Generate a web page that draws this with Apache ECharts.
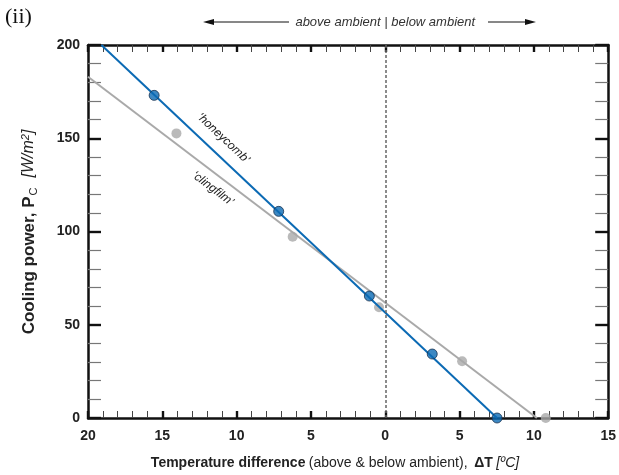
<!DOCTYPE html>
<html><head><meta charset="utf-8">
<script src="https://cdn.jsdelivr.net/npm/echarts@6/dist/echarts.min.js"></script>
<style>html,body{margin:0;padding:0;background:#fff}#c{width:619px;height:475px}</style>
</head><body><div id="c"></div>
<script>
// ---- data ----
const xMin = -20, xMax = 15, xStep = 5;
const yMin = 0, yMax = 200, yStep = 50;
const xTickLabels = ['20', '15', '10', '5', '0', '5', '10', '15'];
const yTickLabels = ['0', '50', '100', '150', '200'];
const honeycombPts = [[-15.55, 173], [-7.17, 110.8], [-1.07, 65.4], [3.16, 34.3], [7.52, 0]];
const clingfilmPts = [[-14.05, 152.6], [-6.23, 97.2], [-0.42, 59.4], [5.17, 30.4], [10.8, 0]];
const honeycombFit = [[-19.1, 200], [7.52, 0]];
const clingfilmFit = [[-20, 183], [10.2, 0]];
const ambientX = 0;
const honeycombLabelAt = [-10.9, 150];
const clingfilmLabelAt = [-11.6, 123];

const BLUE = '#0b6ab4', GREY = '#a9a9a9';
const FONT = '"Liberation Sans", Arial, Helvetica, sans-serif';

const chart = echarts.init(document.getElementById('c'), null, {renderer: 'canvas'});

function xAxisDef(pos, showLabel) {
  return {
    type: 'value', position: pos, min: xMin, max: xMax, interval: xStep,
    axisLine: {show: true, onZero: false, lineStyle: {color: '#111', width: 2.5}},
    axisTick: {show: true, inside: true, length: 7, lineStyle: {color: '#111', width: 2.4}},
    minorTick: {show: true, splitNumber: 5, length: 7, lineStyle: {color: '#444', width: 1}},
    splitLine: {show: false},
    axisLabel: {show: showLabel, margin: 11, fontFamily: FONT, fontWeight: 'bold', fontSize: 14, color: '#222',
      formatter: v => xTickLabels[Math.round((v - xMin) / xStep)]}
  };
}
function yAxisDef(pos, showLabel) {
  return {
    type: 'value', position: pos, min: yMin, max: yMax, interval: yStep,
    axisLine: {show: true, onZero: false, lineStyle: {color: '#111', width: 2.5}},
    axisTick: {show: true, inside: true, length: 13, lineStyle: {color: '#111', width: 2.4}},
    minorTick: {show: true, splitNumber: 5, length: 13, lineStyle: {color: '#777', width: 1.2}},
    splitLine: {show: false},
    axisLabel: {show: showLabel, margin: 8, fontFamily: FONT, fontWeight: 'bold', fontSize: 14, color: '#222',
      formatter: v => yTickLabels[Math.round((v - yMin) / yStep)]}
  };
}

chart.setOption({
  animation: false,
  backgroundColor: '#fff',
  grid: {left: 88, right: 9, top: 45, bottom: 57, containLabel: false},
  xAxis: [xAxisDef('bottom', true), xAxisDef('top', false)],
  yAxis: [yAxisDef('left', true), yAxisDef('right', false)],
  series: [
    {type: 'line', data: clingfilmFit, symbol: 'none', lineStyle: {color: GREY, width: 2}, z: 2,
      markLine: {silent: true, symbol: 'none', label: {show: false},
        lineStyle: {color: '#666', width: 1.5, type: [3, 2]}, data: [{xAxis: ambientX}]}},
    {type: 'scatter', data: clingfilmPts, symbolSize: 10, itemStyle: {color: GREY}, clip: false, z: 3},
    {type: 'line', data: honeycombFit, symbol: 'none', lineStyle: {color: BLUE, width: 2}, z: 4},
    {type: 'scatter', data: honeycombPts, symbolSize: 10, clip: false, z: 5,
      itemStyle: {color: BLUE, borderColor: '#1b3350', borderWidth: 1}}
  ]
});

function angleOf(fit) {
  const a = chart.convertToPixel({gridIndex: 0}, fit[0]);
  const b = chart.convertToPixel({gridIndex: 0}, fit[1]);
  return -Math.atan2(b[1] - a[1], b[0] - a[0]);
}
const hp = chart.convertToPixel({gridIndex: 0}, honeycombLabelAt);
const cp = chart.convertToPixel({gridIndex: 0}, clingfilmLabelAt);
const zx = chart.convertToPixel({gridIndex: 0}, [ambientX, 0])[0];

chart.setOption({
  graphic: [
    {type: 'text', x: 5, y: 6, style: {text: '(ii)', font: '22px "Liberation Serif", "Times New Roman", serif', fill: '#111'}},
    {type: 'text', x: zx, y: 22, style: {text: 'above ambient | below ambient', font: 'italic 13px ' + FONT,
      fill: '#333', align: 'center', verticalAlign: 'middle'}},
    {type: 'line', shape: {x1: 289, y1: 22, x2: 212, y2: 22}, style: {stroke: '#111', lineWidth: 1}},
    {type: 'polygon', shape: {points: [[203, 22], [214, 19], [214, 25]]}, style: {fill: '#111'}},
    {type: 'line', shape: {x1: 488, y1: 22, x2: 526, y2: 22}, style: {stroke: '#111', lineWidth: 1}},
    {type: 'polygon', shape: {points: [[536, 22], [525, 19], [525, 25]]}, style: {fill: '#111'}},
    {type: 'text', x: hp[0], y: hp[1], rotation: angleOf(honeycombFit),
      style: {text: '\u2018honeycomb\u2019', font: 'italic 12px ' + FONT, fill: '#222', align: 'center', verticalAlign: 'middle'}},
    {type: 'text', x: cp[0], y: cp[1], rotation: angleOf(clingfilmFit),
      style: {text: '\u2018clingfilm\u2019', font: 'italic 12px ' + FONT, fill: '#222', align: 'center', verticalAlign: 'middle'}},
    {type: 'text', x: 335, y: 463, style: {
      text: '{b|Temperature difference} {n|(above & below ambient),}  {b|\u0394T} {i|[\u00baC]}',
      align: 'center', verticalAlign: 'middle',
      rich: {
        b: {font: 'bold 14px ' + FONT, fill: '#222'},
        n: {font: '14px ' + FONT, fill: '#222'},
        i: {font: 'italic 14px ' + FONT, fill: '#222'}
      }}},
    {type: 'text', x: 29, y: 232, rotation: Math.PI / 2, style: {
      text: '{b|Cooling power, P}{sub|C}   {i|[W/m}{sup|2}{i|]}',
      align: 'center', verticalAlign: 'middle',
      rich: {
        b: {font: 'bold 17px ' + FONT, fill: '#222', lineHeight: 20, verticalAlign: 'middle'},
        sub: {font: '11px ' + FONT, fill: '#222', lineHeight: 20, verticalAlign: 'bottom', padding: [7, 0, 0, 1]},
        i: {font: 'italic 16px ' + FONT, fill: '#222', lineHeight: 20},
        sup: {font: 'italic 11px ' + FONT, fill: '#222', lineHeight: 20, padding: [0, 0, 7, 0]}
      }}}
  ]
});
</script>
</body></html>
